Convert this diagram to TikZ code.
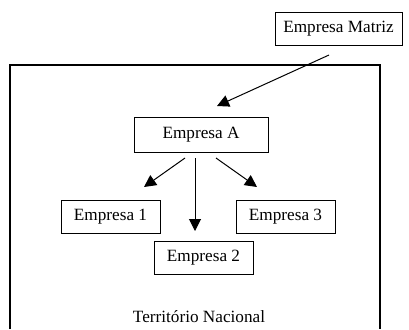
\documentclass[tikz,border=0pt]{standalone}
\usepackage{fontspec}
\setmainfont{Liberation Serif}
\usetikzlibrary{arrows.meta}
\begin{document}
\begin{tikzpicture}[x=0.75pt,y=-0.75pt,
  box/.style={draw,line width=0.75pt,inner sep=0pt,minimum height=24.75pt,font=\fontsize{12.9}{15}\selectfont},
  arr/.style={line width=0.75pt,-{Triangle[length=9pt,width=9pt]}},
  lbl/.style={inner sep=0pt,font=\fontsize{12.9}{15}\selectfont}]
\useasboundingbox (0,0) rectangle (409,329);
\draw[line width=0.8pt] (10,329) -- (10,65) -- (380,65) -- (380,329);
\node[box,minimum width=95.25pt] (matriz) at (338.5,28.5) {Empresa Matriz};
\node[box,minimum width=100.5pt,minimum height=26.25pt] (a) at (201,134.5) {Empresa A};
\node[box,minimum width=74.25pt] (e1) at (110.5,216.5) {Empresa 1};
\node[box,minimum width=74.25pt] (e3) at (285.5,216.5) {Empresa 3};
\node[box,minimum width=74.25pt] (e2) at (203.5,257.5) {Empresa 2};
\node[lbl] (tn) at (199,317) {Território Nacional};
\coordinate (m1) at (329,55);
\coordinate (m2) at (217,106);
\coordinate (l1) at (185,158);
\coordinate (l2) at (144,187);
\coordinate (c1) at (195,158);
\coordinate (c2) at (195,231);
\coordinate (r1) at (216,158);
\coordinate (r2) at (257,187);
\draw[arr] (m1) -- (m2);
\draw[arr] (l1) -- (l2);
\draw[arr] (c1) -- (c2);
\draw[arr] (r1) -- (r2);
\end{tikzpicture}
\end{document}
